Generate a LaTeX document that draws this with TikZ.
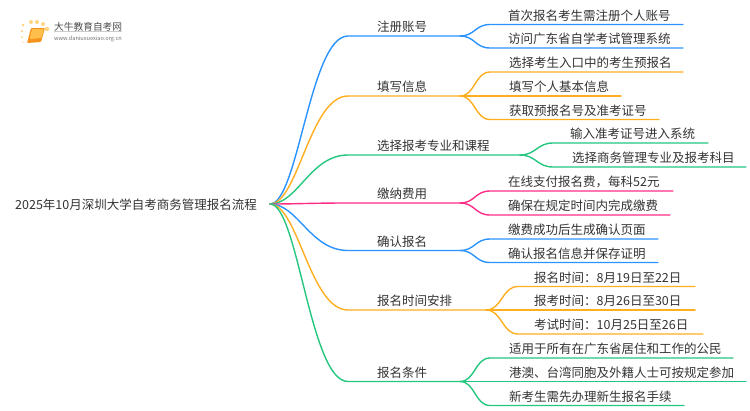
\documentclass[tikz,border=0pt]{standalone}
\usepackage{fontspec}
\setmainfont{Noto Sans CJK SC}
\usepackage{xcolor}
\usetikzlibrary{positioning}
\definecolor{lineblue}{HTML}{2A93FF}
\definecolor{lineorange}{HTML}{FFAE1F}
\definecolor{linegreen}{HTML}{25C67F}
\definecolor{linepink}{HTML}{FF2D86}
\definecolor{txtgray}{HTML}{333333}
\definecolor{bookdark}{HTML}{F4921B}
\definecolor{booklight}{HTML}{FFBE4A}
\definecolor{sundot}{HTML}{FFD581}
\tikzset{lab/.style={anchor=base west, inner sep=0pt, yshift=-0.5pt, text=txtgray, font=\fontsize{12.5pt}{15pt}\selectfont}}
\tikzset{wire/.style={line width=1.4pt, line cap=round}}
\tikzset{bwire/.style={wire, lineblue}}
\tikzset{owire/.style={wire, lineorange}}
\tikzset{gwire/.style={wire, linegreen}}
\tikzset{pwire/.style={wire, linepink}}
\tikzset{sun/.style={circle, fill=sundot, inner sep=0pt, minimum size=#1}}

\begin{document}
\begin{tikzpicture}[x=1pt, y=-1pt]
\useasboundingbox (0,0) rectangle (750,410);

% logo
\foreach \px/\py/\ps in {23/25/3pt,31/22/4pt,37/22/4pt,43/24/4pt,47/29/4.5pt,22/31/2.5pt,22/37/2pt,23/42/1.5pt}
  \node[sun=\ps] at (\px,\py) {};
\fill[bookdark, rounded corners=1pt] (31,28) -- (45,28) -- (41,42) -- (27,43) -- cycle;
\fill[booklight, rounded corners=1pt] (32,29) -- (44,29) -- (41.5,38) -- (29.5,39) -- cycle;
\node[anchor=base west, inner sep=0pt, text=black!70, font=\fontsize{9.7pt}{11pt}\selectfont] (logoname) at (54,30.5) {大牛教育自考网};
\node[anchor=base west, inner sep=0pt, text=black!55, font=\fontsize{5.6pt}{7pt}\selectfont] (logourl) at (54,40.5) {www.daniuxuexiao.org.cn};
\draw[black!20, line width=0.5pt] (logoname.south west) -- (logoname.south east);

% root
\node[lab, anchor=base, inner xsep=12pt] (root) at (136,209) {2025年10月深圳大学自考商务管理报名流程};
\coordinate (rootc) at (270,204);

% main branches
\coordinate (regA) at (348,36);
\coordinate (regB) at (460,36);
\coordinate (fillA) at (348,96);
\coordinate (fillB) at (460,96);
\coordinate (majorA) at (348,155);
\coordinate (majorB) at (520,155);
\coordinate (payA) at (348,203);
\coordinate (payB) at (460,203);
\coordinate (confA) at (348,250.5);
\coordinate (confB) at (460,250.5);
\coordinate (timeA) at (348,310);
\coordinate (timeB) at (486,310);
\coordinate (condA) at (348,381.5);
\coordinate (condB) at (460,381.5);

\node[lab] (reg) at (377,31) {注册账号};
\node[lab] (fill) at (377,91) {填写信息};
\node[lab] (major) at (377,150) {选择报考专业和课程};
\node[lab] (pay) at (377,198) {缴纳费用};
\node[lab] (conf) at (377,245.5) {确认报名};
\node[lab] (time) at (377,305) {报名时间安排};
\node[lab] (cond) at (377,376.5) {报名条件};

\draw[bwire] (rootc) .. controls +(28,0) and +(-38,0) .. (regA) -- (regB);
\draw[owire] (rootc) .. controls +(28,0) and +(-38,0) .. (fillA) -- (fillB);
\draw[gwire] (rootc) .. controls +(28,0) and +(-38,0) .. (majorA) -- (majorB);
\draw[pwire] (rootc) .. controls +(28,0) and +(-38,0) .. (payA) -- (payB);
\draw[bwire] (rootc) .. controls +(28,0) and +(-38,0) .. (confA) -- (confB);
\draw[owire] (rootc) .. controls +(28,0) and +(-38,0) .. (timeA) -- (timeB);
\draw[gwire] (rootc) .. controls +(28,0) and +(-38,0) .. (condA) -- (condB);

% leaves
\coordinate (reg1A) at (490,24.5);
\coordinate (reg1B) at (683,24.5);
\coordinate (reg2A) at (490,48);
\coordinate (reg2B) at (683,48);
\node[lab] (reg1) at (508,19.5) {首次报名考生需注册个人账号};
\node[lab] (reg2) at (508,43) {访问广东省自学考试管理系统};
\draw[bwire] (regB) .. controls +(15,0) and +(-15,0) .. (reg1A) -- (reg1B);
\draw[bwire] (regB) .. controls +(15,0) and +(-15,0) .. (reg2A) -- (reg2B);

\coordinate (fill1A) at (490,72);
\coordinate (fill1B) at (683,72);
\coordinate (fill2B) at (621,96);
\coordinate (fill3A) at (490,119.5);
\coordinate (fill3B) at (659,119.5);
\node[lab] (fill1) at (509,67) {选择考生入口中的考生预报名};
\node[lab] (fill2) at (509,91) {填写个人基本信息};
\node[lab] (fill3) at (509,114.5) {获取预报名号及准考证号};
\draw[owire] (fillB) .. controls +(15,0) and +(-15,0) .. (fill1A) -- (fill1B);
\draw[owire] (fillB) -- (fill2B);
\draw[owire] (fillB) .. controls +(15,0) and +(-15,0) .. (fill3A) -- (fill3B);

\coordinate (major1A) at (553,143);
\coordinate (major1B) at (708,143);
\coordinate (major2A) at (553,167);
\coordinate (major2B) at (746,167);
\node[lab] (major1) at (570,138) {输入准考证号进入系统};
\node[lab] (major2) at (572,162) {选择商务管理专业及报考科目};
\draw[gwire] (majorB) .. controls +(16,0) and +(-16,0) .. (major1A) -- (major1B);
\draw[gwire] (majorB) .. controls +(16,0) and +(-16,0) .. (major2A) -- (major2B);

\coordinate (pay1A) at (490,191);
\coordinate (pay1B) at (673,191);
\coordinate (pay2A) at (490,215);
\coordinate (pay2B) at (670,215);
\node[lab] (pay1) at (508,186) {在线支付报名费，每科52元};
\node[lab] (pay2) at (508,210) {确保在规定时间内完成缴费};
\draw[pwire] (payB) .. controls +(15,0) and +(-15,0) .. (pay1A) -- (pay1B);
\draw[pwire] (payB) .. controls +(15,0) and +(-15,0) .. (pay2A) -- (pay2B);

\coordinate (conf1A) at (490,239);
\coordinate (conf1B) at (658,239);
\coordinate (conf2A) at (490,262.5);
\coordinate (conf2B) at (658,262.5);
\node[lab] (conf1) at (508,234) {缴费成功后生成确认页面};
\node[lab] (conf2) at (508,257.5) {确认报名信息并保存证明};
\draw[bwire] (confB) .. controls +(15,0) and +(-15,0) .. (conf1A) -- (conf1B);
\draw[bwire] (confB) .. controls +(15,0) and +(-15,0) .. (conf2A) -- (conf2B);

\coordinate (time1A) at (518,286.5);
\coordinate (time1B) at (695,286.5);
\coordinate (time2B) at (695,310);
\coordinate (time3A) at (518,334);
\coordinate (time3B) at (703,334);
\node[lab] (time1) at (534,281.5) {报名时间：8月19日至22日};
\node[lab] (time2) at (534,305) {报考时间：8月26日至30日};
\node[lab] (time3) at (534,329) {考试时间：10月25日至26日};
\draw[owire] (timeB) .. controls +(16,0) and +(-16,0) .. (time1A) -- (time1B);
\draw[owire] (timeB) -- (time2B);
\draw[owire] (timeB) .. controls +(16,0) and +(-16,0) .. (time3A) -- (time3B);

\coordinate (cond1A) at (490,358);
\coordinate (cond1B) at (733,358);
\coordinate (cond2B) at (746,381.5);
\coordinate (cond3A) at (490,405.5);
\coordinate (cond3B) at (684,405.5);
\node[lab] (cond1) at (509,353) {适用于所有在广东省居住和工作的公民};
\node[lab] (cond2) at (509,376.5) {港澳、台湾同胞及外籍人士可按规定参加};
\node[lab] (cond3) at (509,400.5) {新考生需先办理新生报名手续};
\draw[gwire] (condB) .. controls +(15,0) and +(-15,0) .. (cond1A) -- (cond1B);
\draw[gwire] (condB) -- (cond2B);
\draw[gwire] (condB) .. controls +(15,0) and +(-15,0) .. (cond3A) -- (cond3B);
\end{tikzpicture}
\end{document}
